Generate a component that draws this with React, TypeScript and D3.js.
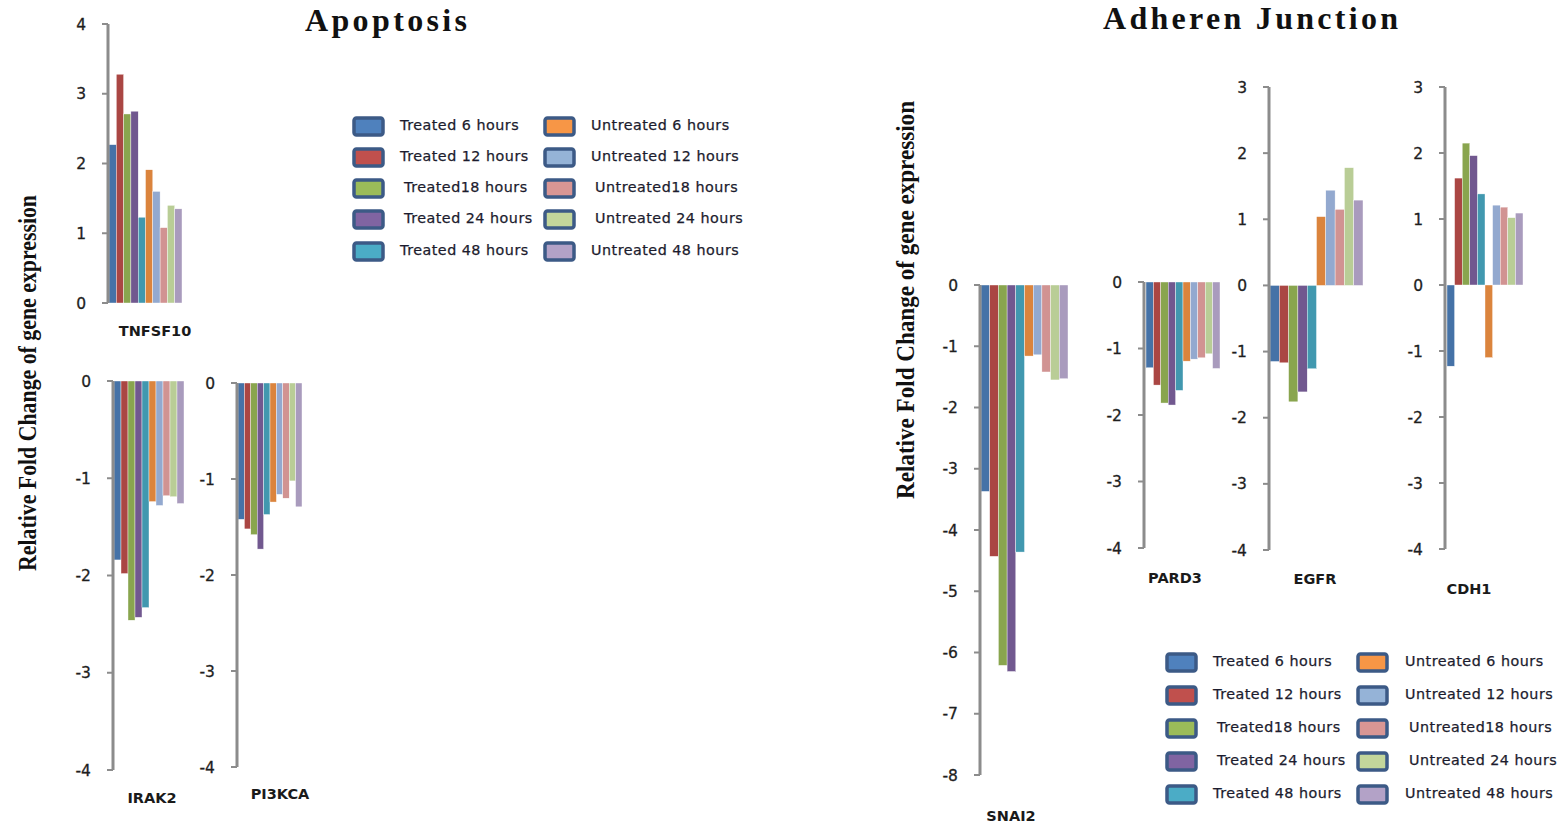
import React from "react";
import * as d3 from "d3";

const seriesNames = [
  "Treated 6 hours",
  "Treated 12 hours",
  "Treated18 hours",
  "Treated 24 hours",
  "Treated 48 hours",
  "Untreated 6 hours",
  "Untreated 12 hours",
  "Untreated18 hours",
  "Untreated 24 hours",
  "Untreated 48 hours",
];

const barColors = ["#4572A7", "#AA4643", "#89A54E", "#71588F", "#4198AF", "#DB843D", "#93A9CF", "#D19392", "#B9CD96", "#A99BBD"];
const swatchColors = ["#4F81BD", "#C0504D", "#9BBB59", "#8064A2", "#4BACC6", "#F79646", "#95B3D7", "#D99694", "#C3D69B", "#B3A2C7"];

// Relative fold change per gene, one value per series
const tnfsf10 = [2.27, 3.28, 2.71, 2.75, 1.23, 1.91, 1.6, 1.08, 1.4, 1.35];
const irak2 = [-1.84, -1.98, -2.46, -2.43, -2.33, -1.24, -1.28, -1.18, -1.19, -1.26];
const pi3kca = [-1.42, -1.52, -1.58, -1.73, -1.37, -1.24, -1.16, -1.2, -1.02, -1.29];
const snai2 = [-3.37, -4.43, -6.21, -6.31, -4.36, -1.16, -1.14, -1.42, -1.55, -1.53];
const pard3 = [-1.29, -1.55, -1.82, -1.85, -1.63, -1.19, -1.16, -1.14, -1.08, -1.3];
const egfr = [-1.15, -1.17, -1.76, -1.61, -1.26, 1.04, 1.44, 1.15, 1.78, 1.29];
const cdh1 = [-1.23, 1.62, 2.15, 1.96, 1.38, -1.1, 1.21, 1.18, 1.02, 1.09];

const ticks0to4 = [0, 1, 2, 3, 4];
const ticksNeg4 = [0, -1, -2, -3, -4];
const ticksNeg8 = [0, -1, -2, -3, -4, -5, -6, -7, -8];
const ticksMixed = [3, 2, 1, 0, -1, -2, -3, -4];

type Panel = {
  name: string;
  values: number[];
  domain: [number, number];
  ticks: number[];
  axisX: number;
  top: number;
  bottom: number;
  barStart: number;
  barEnd: number;
  labelX: number;
  labelY: number;
};

const panels: Panel[] = [
  { name: "TNFSF10", values: tnfsf10, domain: [0, 4], ticks: ticks0to4, axisX: 108, top: 24, bottom: 303, barStart: 109, barEnd: 182, labelX: 155, labelY: 336 },
  { name: "IRAK2", values: irak2, domain: [-4, 0], ticks: ticksNeg4, axisX: 113, top: 381, bottom: 770, barStart: 114, barEnd: 184, labelX: 152, labelY: 803 },
  { name: "PI3KCA", values: pi3kca, domain: [-4, 0], ticks: ticksNeg4, axisX: 237, top: 383, bottom: 767, barStart: 238, barEnd: 302, labelX: 280, labelY: 799 },
  { name: "SNAI2", values: snai2, domain: [-8, 0], ticks: ticksNeg8, axisX: 980, top: 285, bottom: 775, barStart: 981, barEnd: 1068, labelX: 1011, labelY: 821 },
  { name: "PARD3", values: pard3, domain: [-4, 0], ticks: ticksNeg4, axisX: 1144, top: 282, bottom: 548, barStart: 1146, barEnd: 1220, labelX: 1175, labelY: 583 },
  { name: "EGFR", values: egfr, domain: [-4, 3], ticks: ticksMixed, axisX: 1269, top: 87, bottom: 550, barStart: 1270, barEnd: 1363, labelX: 1315, labelY: 584 },
  { name: "CDH1", values: cdh1, domain: [-4, 3], ticks: ticksMixed, axisX: 1445, top: 87, bottom: 549, barStart: 1447, barEnd: 1523, labelX: 1469, labelY: 594 },
];

const SANS = "'DejaVu Sans', Verdana, sans-serif";
const SERIF = "'Liberation Serif', 'Times New Roman', serif";

function BarPanel({ p }: { p: Panel }) {
  const y = d3.scaleLinear().domain(p.domain).range([p.bottom, p.top]);
  const x = d3.scaleBand<number>().domain(d3.range(p.values.length)).range([p.barStart, p.barEnd]).padding(0);
  const y0 = y(0);
  return (
    <g>
      {p.values.map((v, i) => (
        <rect
          key={i}
          x={x(i)}
          y={Math.min(y(v), y0)}
          width={x.bandwidth()}
          height={Math.abs(y(v) - y0)}
          fill={barColors[i]}
          stroke="#ffffff"
          strokeWidth={0.4}
        />
      ))}
      <line x1={p.axisX} x2={p.axisX} y1={p.top} y2={p.bottom} stroke="#8c8c8c" strokeWidth={3} />
      {p.ticks.map((t) => (
        <g key={t}>
          <line x1={p.axisX - 6} x2={p.axisX} y1={y(t)} y2={y(t)} stroke="#8c8c8c" strokeWidth={2} />
          <text
            x={p.axisX - 22}
            y={y(t)}
            dy="0.36em"
            textAnchor="end"
            fontFamily={SANS}
            fontSize={15.5}
            fill="#1e1e1e"
            stroke="#1e1e1e"
            strokeWidth={0.3}
          >
            {t}
          </text>
        </g>
      ))}
      <text x={p.labelX} y={p.labelY} textAnchor="middle" fontFamily={SANS} fontWeight="bold" fontSize={14.5} fill="#1a1a1a">
        {p.name}
      </text>
    </g>
  );
}

type LegendSpec = { swatchX: [number, number]; textX: [number, number]; rows: number[] };

const leftLegend: LegendSpec = { swatchX: [354, 545], textX: [400, 591], rows: [125, 156, 187, 218, 250] };
const rightLegend: LegendSpec = { swatchX: [1167, 1358], textX: [1213, 1405], rows: [661, 694, 727, 760, 793] };

function Legend({ spec }: { spec: LegendSpec }) {
  return (
    <g>
      {seriesNames.map((name, i) => {
        const col = i < 5 ? 0 : 1;
        const row = i % 5;
        const cy = spec.rows[row];
        const indent = /18|24/.test(name) ? 4 : 0;
        return (
          <g key={name}>
            <rect
              x={spec.swatchX[col]}
              y={cy - 7}
              width={29}
              height={17}
              rx={2.5}
              fill={swatchColors[i]}
              stroke="#3C5A86"
              strokeWidth={3.5}
            />
            <text
              x={spec.textX[col] + indent}
              y={cy}
              dy="0.35em"
              fontFamily={SANS}
              fontSize={14.3}
              letterSpacing={0.5}
              fill="#1c1c2e"
              stroke="#1c1c2e"
              strokeWidth={0.25}
            >
              {name}
            </text>
          </g>
        );
      })}
    </g>
  );
}

export default function App() {
  return (
    <svg width={1564} height={825} style={{ position: "absolute", left: 0, top: 0, background: "#ffffff" }}>
      <text x={305} y={31} fontFamily={SERIF} fontWeight="bold" fontSize={32} textLength={162} lengthAdjust="spacing" fill="#111">
        Apoptosis
      </text>
      <text x={1103} y={29} fontFamily={SERIF} fontWeight="bold" fontSize={32} textLength={295} lengthAdjust="spacing" fill="#111">
        Adheren Junction
      </text>
      <text
        transform="translate(36,383) rotate(-90)"
        textAnchor="middle"
        fontFamily={SERIF}
        fontWeight="bold"
        fontSize={25}
        textLength={376}
        lengthAdjust="spacingAndGlyphs"
        fill="#111"
      >
        Relative Fold Change of gene expression
      </text>
      <text
        transform="translate(914,300) rotate(-90)"
        textAnchor="middle"
        fontFamily={SERIF}
        fontWeight="bold"
        fontSize={25}
        textLength={398}
        lengthAdjust="spacingAndGlyphs"
        fill="#111"
      >
        Relative Fold Change of gene expression
      </text>
      {panels.map((p) => (
        <BarPanel key={p.name} p={p} />
      ))}
      <Legend spec={leftLegend} />
      <Legend spec={rightLegend} />
    </svg>
  );
}
